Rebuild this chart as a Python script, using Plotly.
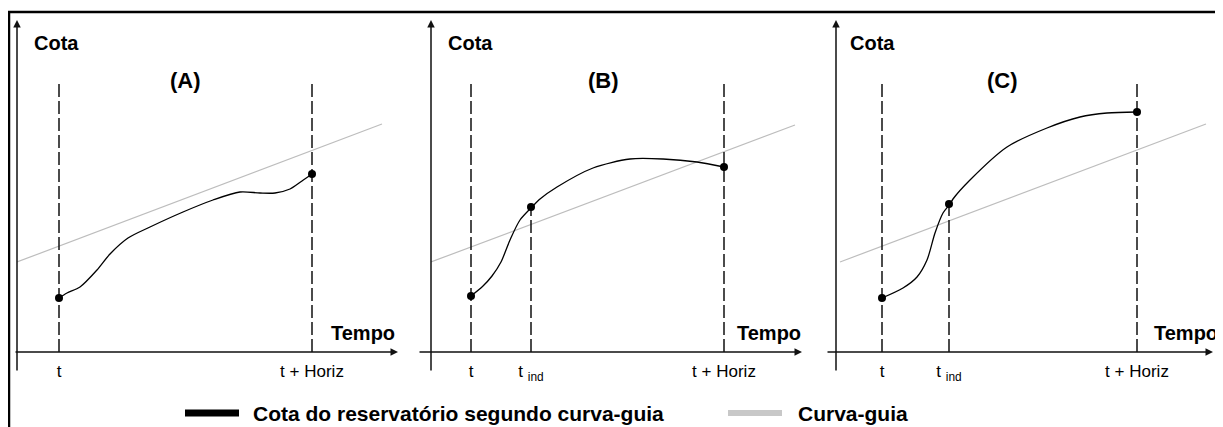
import plotly.graph_objects as go

# the page body keeps an 8px margin, so the figure is drawn 8px in from the
# window's top-left corner; all pixel positions below are window pixels
OFF = 8
W, H = 1223 - OFF, 427 - OFF

# --- data (time / level units, measured from each panel's origin) ---
TICK_LABELS_A = ["t", "t + Horiz"]
TICK_LABELS_BC = ["t", "t <sub>ind</sub>", "t + Horiz"]

T_A = [42, 295]
T_B = [40, 100, 293]
T_C = [46, 113, 301]

GUIDE_A_X = [0, 365]
GUIDE_A_Y = [90, 228]
GUIDE_B_X = [0, 364]
GUIDE_B_Y = [90, 227]
GUIDE_C_X = [4, 370]
GUIDE_C_Y = [90, 228]

CURVE_A_X = [42, 50, 63, 80, 93, 111, 133, 166, 196, 223, 243, 258, 273, 285, 295]
CURVE_A_Y = [54, 59, 65, 82, 98, 114, 125, 140, 152, 160, 159, 159, 163, 171, 178]

CURVE_B_X = [40, 52, 61, 70, 79, 89, 101, 109, 126, 162, 199, 232, 266, 293]
CURVE_B_Y = [56, 66, 76, 90, 112, 132, 145, 153, 165, 184, 193, 193, 190, 185]

CURVE_C_X = [46, 67, 81, 91, 99, 107, 114, 117, 134, 171, 211, 244, 271, 301]
CURVE_C_Y = [54, 64, 75, 92, 119, 139, 148, 153, 172, 205, 224, 235, 239, 240]

# dots: (time, level)
DOTS_A = ([42, 295], [54, 178])
DOTS_B = ([40, 100, 293], [56, 145, 185])
DOTS_C = ([46, 113, 301], [54, 148, 240])

DASH_TOP = 271  # upper end of the t / t+Horiz dashed guides

PANELS = [
    dict(ox=17, tag="(A)", t=T_A, lab=TICK_LABELS_A, gx=GUIDE_A_X, gy=GUIDE_A_Y,
         cx=CURVE_A_X, cy=CURVE_A_Y, dots=DOTS_A, x_lo=-3, x_hi=381, cota_x=15, tag_x=168, tempo_x=380),
    dict(ox=431, tag="(B)", t=T_B, lab=TICK_LABELS_BC, gx=GUIDE_B_X, gy=GUIDE_B_Y,
         cx=CURVE_B_X, cy=CURVE_B_Y, dots=DOTS_B, x_lo=-13, x_hi=371, cota_x=15, tag_x=172, tempo_x=372),
    dict(ox=836, tag="(C)", t=T_C, lab=TICK_LABELS_BC, gx=GUIDE_C_X, gy=GUIDE_C_Y,
         cx=CURVE_C_X, cy=CURVE_C_Y, dots=DOTS_C, x_lo=-10, x_hi=377, cota_x=12, tag_x=166, tempo_x=384),
]

FONT = "Liberation Sans, Arial, sans-serif"
AXIS_Y_PX = 352  # x-axis line, window pixels from top
TOP_PX = 20
SPAN = 387


def px(x):
    return (x - OFF) / W


def py(y):
    return (427 - y) / H


fig = go.Figure()
annotations = []
layout_axes = {}

for i, p in enumerate(PANELS, start=1):
    xa = "x" if i == 1 else f"x{i}"
    ya = "y" if i == 1 else f"y{i}"
    xkey = "xaxis" if i == 1 else f"xaxis{i}"
    ykey = "yaxis" if i == 1 else f"yaxis{i}"

    # guide curve
    fig.add_trace(go.Scatter(x=p["gx"], y=p["gy"], mode="lines", xaxis=xa, yaxis=ya,
                             line=dict(color="#bdbdbd", width=1.2), hoverinfo="skip",
                             showlegend=False))
    # dashed verticals
    t = p["t"]
    for j, tv in enumerate(t):
        top = DASH_TOP
        if len(t) == 3 and j == 1:
            top = p["dots"][1][1]
        fig.add_trace(go.Scatter(x=[tv, tv], y=[0, top], mode="lines", xaxis=xa, yaxis=ya,
                                 line=dict(color="#111", width=1.5, dash="13px,4px"),
                                 hoverinfo="skip", showlegend=False))
    # reservoir level
    fig.add_trace(go.Scatter(x=p["cx"], y=p["cy"], mode="lines", xaxis=xa, yaxis=ya,
                             line=dict(color="#000", width=1.3, shape="spline", smoothing=0.8),
                             showlegend=False))
    fig.add_trace(go.Scatter(x=p["dots"][0], y=p["dots"][1], mode="markers", xaxis=xa, yaxis=ya,
                             marker=dict(color="#000", size=8), cliponaxis=False,
                             showlegend=False))

    layout_axes[xkey] = dict(domain=[px(p["ox"]), min(1, px(p["ox"] + SPAN))], range=[0, SPAN],
                             anchor=ya, showgrid=False, zeroline=False, showline=False,
                             tickvals=t, ticktext=p["lab"], ticks="",
                             ticklabelstandoff=7,
                             tickfont=dict(family=FONT, size=17, color="#000"),
                             fixedrange=True)
    layout_axes[ykey] = dict(domain=[py(AXIS_Y_PX), py(TOP_PX)],
                             range=[0, AXIS_Y_PX - TOP_PX], anchor=xa, visible=False,
                             fixedrange=True)

    # axes with arrows
    annotations.append(dict(x=0, y=AXIS_Y_PX - TOP_PX, ax=0, ay=-20, xref=xa, yref=ya,
                            axref=xa, ayref=ya, text="", showarrow=True, arrowhead=2,
                            arrowsize=1, arrowwidth=1.5, arrowcolor="#111"))
    annotations.append(dict(x=p["x_hi"], y=0, ax=p["x_lo"], ay=0, xref=xa, yref=ya,
                            axref=xa, ayref=ya, text="", showarrow=True, arrowhead=2,
                            arrowsize=1, arrowwidth=1.5, arrowcolor="#111"))
    bold = dict(family=FONT, size=20, color="#000")
    annotations.append(dict(x=p["cota_x"], y=309, xref=xa, yref=ya, text="<b>Cota</b>",
                            showarrow=False, xanchor="left", yanchor="middle", font=bold))
    annotations.append(dict(x=p["tag_x"], y=272, xref=xa, yref=ya, text=f"<b>{p['tag']}</b>",
                            showarrow=False, xanchor="center", yanchor="middle",
                            font=dict(family=FONT, size=22, color="#000")))
    annotations.append(dict(x=p["tempo_x"], y=19, xref=xa, yref=ya, text="<b>Tempo</b>",
                            showarrow=False, xanchor="right", yanchor="middle", font=bold))

# legend, drawn by hand below the panels
legend_y = py(413)
shapes = [
    dict(type="line", xref="paper", yref="paper", x0=0, x1=1, y0=py(12), y1=py(12),
         line=dict(color="#000", width=2.5)),
    dict(type="line", xref="paper", yref="paper", x0=px(9), x1=px(9), y0=0, y1=py(12),
         line=dict(color="#000", width=2.5)),
    dict(type="line", xref="paper", yref="paper", x0=px(185), x1=px(239), y0=legend_y, y1=legend_y,
         line=dict(color="#000", width=7)),
    dict(type="line", xref="paper", yref="paper", x0=px(728), x1=px(782), y0=legend_y, y1=legend_y,
         line=dict(color="#c8c8c8", width=6)),
]
legend_font = dict(family=FONT, size=21, color="#000")
annotations.append(dict(x=px(251), y=legend_y, xref="paper", yref="paper",
                        text="<b>Cota do reservatório segundo curva-guia</b>", showarrow=False,
                        xanchor="left", yanchor="middle", font=legend_font))
annotations.append(dict(x=px(796), y=legend_y, xref="paper", yref="paper",
                        text="<b>Curva-guia</b>", showarrow=False,
                        xanchor="left", yanchor="middle", font=legend_font))

fig.update_layout(
    width=W, height=H,
    margin=dict(l=0, r=0, t=0, b=0),
    paper_bgcolor="white", plot_bgcolor="rgba(0,0,0,0)",
    showlegend=False,
    annotations=annotations,
    shapes=shapes,
    **layout_axes,
)

fig.write_html("out.html")
